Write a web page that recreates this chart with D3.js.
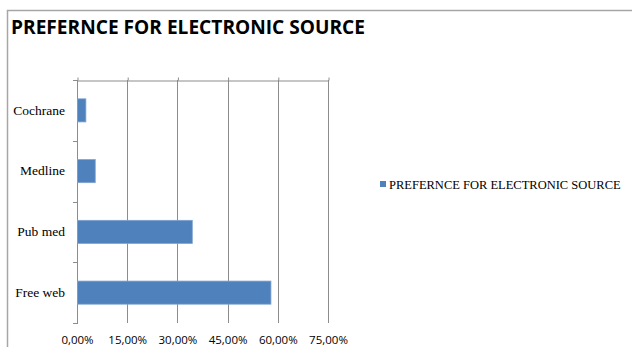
<!DOCTYPE html>
<html>
<head>
<meta charset="utf-8">
<script src="https://cdn.jsdelivr.net/npm/d3@7"></script>
<style>
  body { margin: 0; background: #fff; }
</style>
</head>
<body>
<div id="chart"></div>
<script>
// chart data
let categories = ["Cochrane", "Medline", "Pub med", "Free web"];
let values = [2.5, 5.3, 34.3, 57.8];
let xTicks = [0, 15, 30, 45, 60, 75];
let seriesName = "PREFERNCE FOR ELECTRONIC SOURCE";
let title = "PREFERNCE FOR ELECTRONIC SOURCE";

let svgWidth = 632;
let svgHeight = 347;
let plot = {left: 77, right: 328, top: 80, bottom: 323};
let gridColor = "#8c8c8c";

let svg = d3.select("#chart")
  .append("svg")
  .attr("width", svgWidth)
  .attr("height", svgHeight);

// outer frame of the chart
svg.append("path")
  .attr("d", `M7.5,${svgHeight} V10.5 H${svgWidth}`)
  .attr("fill", "none")
  .attr("stroke", "#a6a6a6")
  .attr("stroke-width", 1.5);

// title
svg.append("text")
  .attr("x", 11)
  .attr("y", 34)
  .attr("font-family", "'Open Sans', sans-serif")
  .attr("font-weight", "bold")
  .attr("font-size", 20)
  .attr("textLength", 354)
  .attr("lengthAdjust", "spacingAndGlyphs")
  .attr("fill", "#000")
  .text(title);

//scales
let xScale = d3.scaleLinear().domain([0, 75]).range([plot.left, plot.right]);
let yScale = d3.scaleBand().domain(categories).range([plot.top, plot.bottom]).paddingInner(0.62).paddingOuter(0.31);
let bandAxis = d3.scaleBand().domain(categories).range([plot.top, plot.bottom]);

// vertical gridlines
svg.append("g")
  .selectAll("line")
  .data(xTicks.slice(1))
  .enter()
  .append("line")
  .attr("x1", d => Math.round(xScale(d)) + 0.5)
  .attr("x2", d => Math.round(xScale(d)) + 0.5)
  .attr("y1", plot.top)
  .attr("y2", plot.bottom)
  .attr("stroke", gridColor)
  .attr("stroke-width", 1);

// value axis line sits on top of the plot, small ticks pointing up
let topAxis = d3.axisTop(xScale)
  .tickValues(xTicks)
  .tickSizeInner(3)
  .tickSizeOuter(0)
  .tickFormat("");

svg.append("g")
  .attr("transform", `translate(0.5,${plot.top + 0.5})`)
  .call(topAxis)
  .call(g => g.selectAll("line, path").attr("stroke", gridColor));

svg.append("line")
  .attr("x1", plot.left - 4).attr("x2", plot.left)
  .attr("y1", plot.top + 0.5).attr("y2", plot.top + 0.5)
  .attr("stroke", gridColor);

// tick labels at the bottom
let xAxis = d3.axisBottom(xScale)
  .tickValues(xTicks)
  .tickSize(0)
  .tickPadding(0)
  .tickFormat(d => d3.format(".2f")(d).replace(".", ",") + "%");

svg.append("g")
  .attr("transform", `translate(0,${plot.bottom + 13})`)
  .call(xAxis)
  .call(g => g.select(".domain").remove())
  .selectAll("text")
  .attr("font-family", "'Open Sans', sans-serif")
  .attr("font-size", 11.5)
  .attr("fill", "#000");

// category axis with ticks on the band edges
let edges = categories.map(c => bandAxis(c)).concat([plot.bottom]);
let yAxisG = svg.append("g");
yAxisG.append("line")
  .attr("x1", plot.left + 0.5).attr("x2", plot.left + 0.5)
  .attr("y1", plot.top).attr("y2", plot.bottom + 1)
  .attr("stroke", gridColor);
yAxisG.selectAll(".edge")
  .data(edges.slice(1))
  .enter()
  .append("line")
  .attr("x1", plot.left - 4).attr("x2", plot.left)
  .attr("y1", d => Math.round(d) + 0.5).attr("y2", d => Math.round(d) + 0.5)
  .attr("stroke", gridColor);

let yAxis = d3.axisLeft(yScale).tickSize(0).tickPadding(12);
svg.append("g")
  .attr("transform", `translate(${plot.left},0)`)
  .call(yAxis)
  .call(g => g.select(".domain").remove())
  .selectAll("text")
  .attr("font-family", "'Liberation Serif', serif")
  .attr("font-size", 13.5)
  .attr("fill", "#000");

// bars
svg.append("g")
  .selectAll("rect")
  .data(values)
  .enter()
  .append("rect")
  .attr("x", xScale(0) + 0.5)
  .attr("y", (d, i) => yScale(categories[i]))
  .attr("width", d => xScale(d) - xScale(0))
  .attr("height", yScale.bandwidth())
  .attr("fill", "#4f81bd")
  .attr("stroke", "#7ea2d0")
  .attr("stroke-width", 0.8);

// legend
let legend = svg.append("g").attr("transform", "translate(380,184)");
legend.append("rect")
  .attr("x", 0).attr("y", -3)
  .attr("width", 6).attr("height", 6)
  .attr("fill", "#4f81bd");
legend.append("text")
  .attr("x", 9)
  .attr("y", 4.5)
  .attr("font-family", "'Liberation Serif', serif")
  .attr("font-size", 12.5)
  .attr("fill", "#000")
  .text(seriesName);
</script>
</body>
</html>
